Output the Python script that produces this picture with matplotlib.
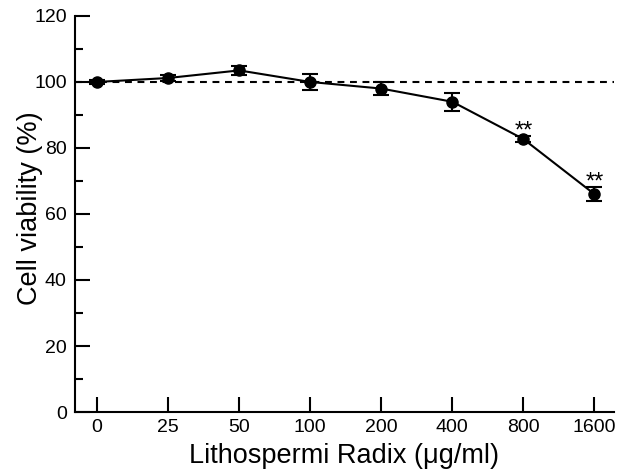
import matplotlib
matplotlib.use("Agg")
import matplotlib.pyplot as plt
from matplotlib.ticker import MultipleLocator

plt.rcParams['font.family'] = ['Liberation Sans', 'DejaVu Sans']

categories = ["0", "25", "50", "100", "200", "400", "800", "1600"]
viability = [100, 101.2, 103.5, 100, 98.0, 94.0, 82.7, 66.0]
errors = [0.5, 0.8, 1.3, 2.5, 2.0, 2.8, 1.0, 2.1]
significance = ["", "", "", "", "", "", "**", "**"]

fig = plt.figure(figsize=(6.22, 4.69), dpi=100)
ax = fig.add_axes([0.1206, 0.1215, 0.866, 0.8445])

x = list(range(len(categories)))
ax.axhline(100, color='black', lw=1.5, ls=(0, (3.3, 2.7)), zorder=1)
ax.errorbar(x, viability, yerr=errors, color='black', lw=1.5, marker='o',
            markersize=8, capsize=6, capthick=1.5, elinewidth=1.5, zorder=3)

for xi, v, e, s in zip(x, viability, errors, significance):
    if s:
        ax.text(xi, v + e - 0.5, s, ha='center', va='baseline', fontsize=17)

ax.set_xlim(-0.31, 7.27)
ax.set_ylim(0, 120)
ax.set_xticks(x)
ax.set_xticklabels(categories)
ax.yaxis.set_major_locator(MultipleLocator(20))
ax.yaxis.set_minor_locator(MultipleLocator(10))

for s in ['top', 'right']:
    ax.spines[s].set_visible(False)
for s in ['left', 'bottom']:
    ax.spines[s].set_linewidth(1.5)

ax.tick_params(axis='x', direction='in', length=11, width=1.5, labelsize=14, pad=5)
ax.tick_params(axis='y', which='major', direction='in', length=11, width=1.5, labelsize=14, pad=6)
ax.tick_params(axis='y', which='minor', direction='in', length=6, width=1.5)

ax.set_xlabel("Lithospermi Radix (\u03bcg/ml)", fontsize=19.5, labelpad=5)
ax.set_ylabel("Cell viability (%)", fontsize=19.5)
ax.yaxis.set_label_coords(-0.060, 0.514)

fig.savefig("out.png", dpi=100)
